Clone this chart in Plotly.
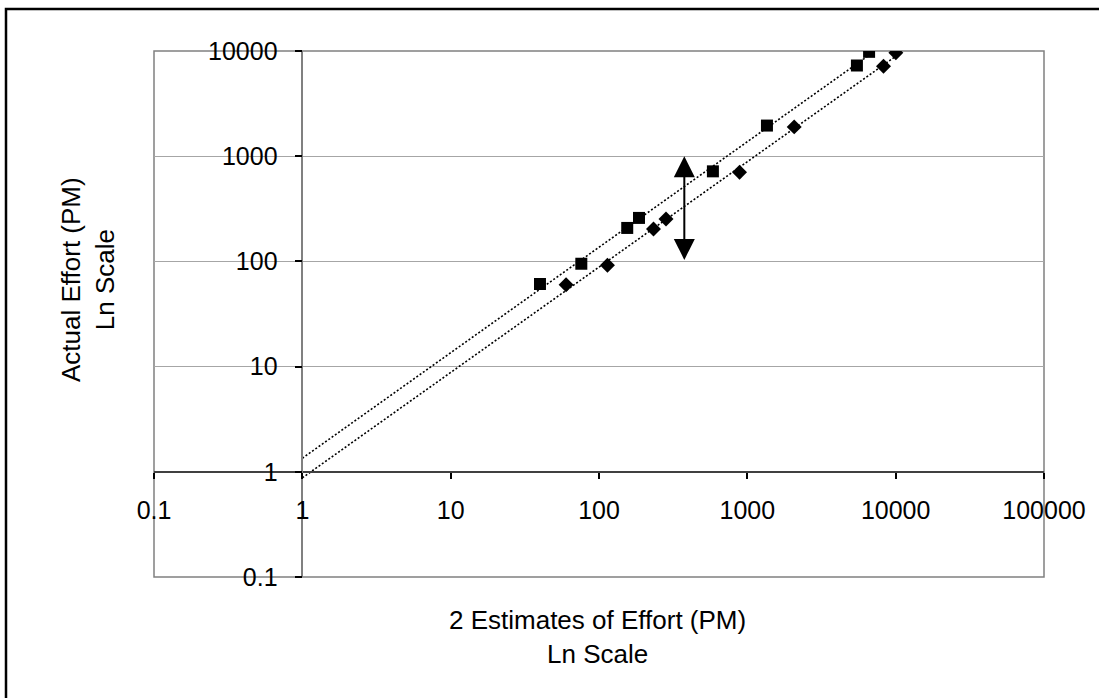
import numpy as np
import plotly.graph_objects as go

# ---- data ----
est_sq = [40, 76, 155, 186, 586, 1356, 5480, 6620]        # squares: estimate (PM)
act_sq = [61, 95, 208, 259, 718, 1955, 7280, 9820]        # squares: actual (PM)
est_di = [60, 114, 233, 283, 886, 2070, 8280, 10030]      # diamonds: estimate (PM)
act_di = [60, 92, 203, 253, 703, 1900, 7170, 9610]        # diamonds: actual (PM)

x_ticks = [0.1, 1, 10, 100, 1000, 10000, 100000]
x_ticktext = ["0.1", "1", "10", "100", "1000", "10000", "100000"]
y_ticks = [0.1, 1, 10, 100, 1000, 10000]
y_ticktext = ["0.1", "1", "10", "100", "1000", "10000"]

arrow_x = 376
arrow_y_low, arrow_y_high = 100, 1000

FONT = "Liberation Sans, Arial, sans-serif"

W, H = 1099, 698
ML, MR, MT, MB = 154, 55, 51, 121
PW, PH = W - ML - MR, H - MT - MB


def px2paper_x(px):
    return (px - ML) / PW


def px2paper_y(py):
    return (H - MB - py) / PH


def trend(xs, ys):
    lx, ly = np.log10(xs), np.log10(ys)
    b, a = np.polyfit(lx, ly, 1)
    xx = np.array([1.0, max(xs)])
    return xx, 10 ** (a + b * np.log10(xx))


fig = go.Figure()

for xs, ys in [(est_sq, act_sq), (est_di, act_di)]:
    tx, ty = trend(xs, ys)
    fig.add_trace(go.Scatter(x=tx, y=ty, mode="lines",
                             line=dict(color="black", width=1.6, dash="2px,2px"),
                             hoverinfo="skip"))

fig.add_trace(go.Scatter(x=est_sq, y=act_sq, mode="markers",
                         marker=dict(symbol="square", size=12, color="black")))
fig.add_trace(go.Scatter(x=est_di, y=act_di, mode="markers",
                         marker=dict(symbol="diamond", size=11.5, color="black")))

# plot-area border and outer frame
shapes = [
    dict(type="rect", xref="paper", yref="paper", x0=0, x1=1, y0=0, y1=1,
         line=dict(color="#808080", width=1.5), layer="below"),
    dict(type="rect", xref="paper", yref="paper",
         x0=px2paper_x(6), x1=px2paper_x(1115), y0=px2paper_y(715), y1=px2paper_y(9),
         line=dict(color="black", width=2.5)),
]

annotations = [
    dict(x=np.log10(arrow_x), y=np.log10(arrow_y_high), ax=np.log10(arrow_x), ay=np.log10(arrow_y_low),
         xref="x", yref="y", axref="x", ayref="y", text="", showarrow=True,
         arrowhead=2, startarrowhead=2, arrowside="end+start",
         arrowwidth=2, arrowsize=2.1, startarrowsize=2.1, arrowcolor="black"),
    dict(x=px2paper_x(597), y=px2paper_y(637), xref="paper", yref="paper",
         text="2 Estimates of Effort (PM)<br>Ln Scale", showarrow=False,
         xanchor="center", yanchor="middle", font=dict(family=FONT, size=26, color="black")),
    dict(x=px2paper_x(88), y=px2paper_y(280), xref="paper", yref="paper",
         text="Actual Effort (PM)<br>Ln Scale", showarrow=False, textangle=-90,
         xanchor="center", yanchor="middle", font=dict(family=FONT, size=26, color="black")),
]

fig.update_layout(
    width=W, height=H,
    margin=dict(l=ML, r=MR, t=MT, b=MB),
    paper_bgcolor="white", plot_bgcolor="white",
    showlegend=False,
    font=dict(family=FONT, size=25, color="black"),
    shapes=shapes,
    annotations=annotations,
    xaxis=dict(type="log", range=[-1, 5], tickvals=x_ticks, ticktext=x_ticktext,
               anchor="free", position=0.2,
               showline=True, linecolor="#404040", linewidth=1.5,
               ticks="outside", ticklen=6, tickwidth=1.5, tickcolor="black",
               ticklabelstandoff=10,
               showgrid=False, zeroline=False,
               tickfont=dict(family=FONT, size=25, color="black")),
    yaxis=dict(type="log", range=[-1, 4], tickvals=y_ticks, ticktext=y_ticktext,
               anchor="free", position=1 / 6,
               showline=True, linecolor="#808080", linewidth=1.5,
               ticks="outside", ticklen=7, tickwidth=1.5, tickcolor="black",
               ticklabelstandoff=12,
               showgrid=True, gridcolor="#a6a6a6", gridwidth=1, zeroline=False,
               tickfont=dict(family=FONT, size=25, color="black")),
)

fig.write_html("out.html", config={"displayModeBar": False},
               post_script="document.body.style.margin='0px';")
